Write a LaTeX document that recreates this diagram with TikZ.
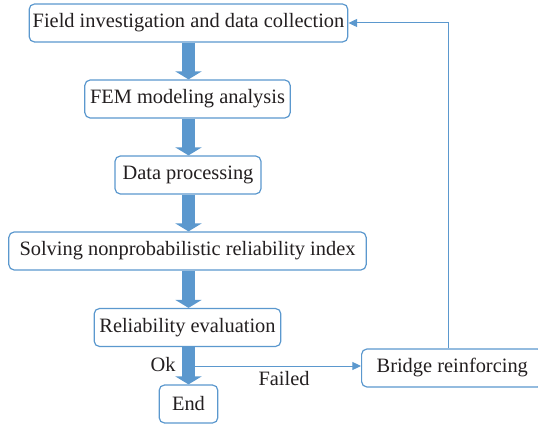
\documentclass[tikz,border=0pt]{standalone}
\usepackage{fontspec}
\setmainfont{Liberation Serif}
\usepackage{xcolor}
\usetikzlibrary{positioning,calc,arrows.meta}
\definecolor{flowblue}{RGB}{91,152,206}
\definecolor{textgray}{RGB}{35,31,32}
\begin{document}
\begin{tikzpicture}[x=0.75pt,y=-0.75pt,
    box/.style={draw=flowblue,line width=0.9pt,rounded corners=4pt,fill=white,
        minimum height=28.5pt,inner sep=0pt,text=textgray,font=\rmfamily\fontsize{15.3}{17}\selectfont},
    fatarrow/.style={draw=flowblue,line width=9.75pt,-{Triangle[width=19.5pt,length=6pt]}},
    thinarrow/.style={draw=flowblue,line width=0.75pt,-{Triangle[width=6pt,length=6.5pt]}},
    lbl/.style={text=textgray,font=\rmfamily\fontsize{15.3}{17}\selectfont}]
    \useasboundingbox (0,0) rectangle (538,427);

    % Boxes
    \node[box,minimum width=239pt] (field) at (188.5,23) {Field investigation and data collection};
    \node[box,minimum width=154pt] (fem) at (187.5,99) {FEM modeling analysis};
    \node[box,minimum width=109.5pt] (data) at (188,175) {Data processing};
    \node[box,minimum width=268pt] (solve) at (187.5,251) {Solving nonprobabilistic reliability index};
    \node[box,minimum width=140pt] (rel) at (187.5,327.5) {Reliability evaluation};
    \node[box,minimum width=44pt] (end) at (188.5,404) {End};
    \node[box,minimum width=136pt,anchor=west] (bridge) at (361,368) {Bridge reinforcing};

    % Main flow
    \draw[fatarrow] (field.south -| 188.5,0) -- (fem.north -| 188.5,0);
    \draw[fatarrow] (fem.south -| 188.5,0) -- (data.north -| 188.5,0);
    \draw[fatarrow] (data.south -| 188.5,0) -- (solve.north -| 188.5,0);
    \draw[fatarrow] (solve.south -| 188.5,0) -- (rel.north -| 188.5,0);
    \draw[fatarrow] (rel.south -| 188.5,0) -- (end.north -| 188.5,0);

    % Decision
    \coordinate (fork) at (194,366);
    \draw[thinarrow] (fork) -- (fork -| bridge.west);
    \node[lbl] (ok) at (163,365) {Ok};
    \node[lbl] (failed) at (284,379) {Failed};

    % Feedback loop
    \coordinate (loop) at (448,368);
    \draw[thinarrow] (loop |- bridge.north) |- (field.east);
\end{tikzpicture}
\end{document}
